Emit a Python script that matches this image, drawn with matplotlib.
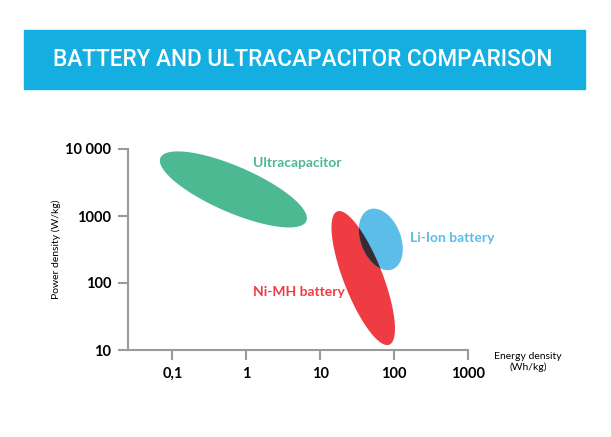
import matplotlib
matplotlib.use('Agg')
import matplotlib.pyplot as plt
import numpy as np
from matplotlib.patches import Polygon, Rectangle

plt.rcParams['font.family'] = ['Lato', 'DejaVu Sans']

# technologies: major-axis end points (energy Wh/kg, power W/kg) of each region
names = ['Ultracapacitor', 'Ni-MH battery', 'Li-Ion battery']
end1_energy = [0.069, 17.0, 46.0]
end1_power = [7400, 1170, 1250]
end2_energy = [6.5, 86.0, 95.0]
end2_power = [840, 12.0, 160]
label_energy = [4.9, 1.24, 164]
label_power = [6200, 73, 470]

x_ticks = [0.1, 1, 10, 100, 1000]
x_ticklabels = ['0,1', '1', '10', '100', '1000']
y_ticks = [10, 100, 1000, 10000]
y_ticklabels = ['10', '100', '1000', '10 000']

colors = ['#4cb993', '#ee3c42', '#5bbde8']
half_width = [23, 19.5, 20]  # minor half-axis, pixels
label_ha = ['center', 'left', 'left']

fig = plt.figure(figsize=(6.11, 4.37), dpi=100)
fig.patches.append(Rectangle((24 / 611, 1 - 89 / 437), 561 / 611, 59 / 437,
                             transform=fig.transFigure, color='#14afe0', zorder=0))
fig.text(303 / 611, 1 - 60 / 437, 'BATTERY AND ULTRACAPACITOR COMPARISON', color='white',
         fontsize=16.3, fontweight='medium', ha='center', va='center', family=['Roboto', 'DejaVu Sans'])

ax = fig.add_axes([128 / 611, 87 / 437, 340 / 611, 201 / 437])
ax.set_xscale('log'); ax.set_yscale('log')
ax.set_xlim(10 ** -1.6, 1000); ax.set_ylim(10, 10000)
ax.minorticks_off()
ax.set_xticks(x_ticks); ax.set_xticklabels(x_ticklabels)
ax.set_yticks(y_ticks); ax.set_yticklabels(y_ticklabels)
for s in ('top', 'right'):
    ax.spines[s].set_visible(False)
for s in ('left', 'bottom'):
    ax.spines[s].set_color('#9a9a9a'); ax.spines[s].set_linewidth(1.5)
ax.tick_params(color='#9a9a9a', width=1.5, length=7, labelsize=10.5, pad=5)
for t in ax.get_xticklabels() + ax.get_yticklabels():
    t.set_fontweight('bold')
ax.set_ylabel('Power density (W/kg)', fontsize=7.5, labelpad=3)
fig.text(528 / 611, 1 - 362 / 437, 'Energy density\n(Wh/kg)', fontsize=7.5, ha='center',
         va='center', linespacing=1.1)


def ellipse_patch(i, **kw):
    p1 = ax.transData.transform((end1_energy[i], end1_power[i]))
    p2 = ax.transData.transform((end2_energy[i], end2_power[i]))
    c = (p1 + p2) / 2
    a = (p2 - p1) / 2
    u = np.array([-a[1], a[0]]) / np.hypot(*a) * half_width[i]
    t = np.linspace(0, 2 * np.pi, 200)
    pts = c + np.outer(np.cos(t), a) + np.outer(np.sin(t), u)
    pts = ax.transData.inverted().transform(pts)
    return Polygon(pts, closed=True, **kw)


patches = []
for i in range(3):
    p = ellipse_patch(i, facecolor=colors[i], edgecolor='none', zorder=2)
    ax.add_patch(p)
    patches.append(p)
    ax.text(label_energy[i], label_power[i], names[i], color=colors[i], fontsize=10,
            fontweight='bold', ha=label_ha[i], va='center')

# overlap of Ni-MH and Li-Ion
ov = ellipse_patch(1, facecolor='#3b2a31', edgecolor='none', zorder=3)
ax.add_patch(ov)
ov.set_clip_path(patches[2])

fig.savefig('out.png', dpi=100)
